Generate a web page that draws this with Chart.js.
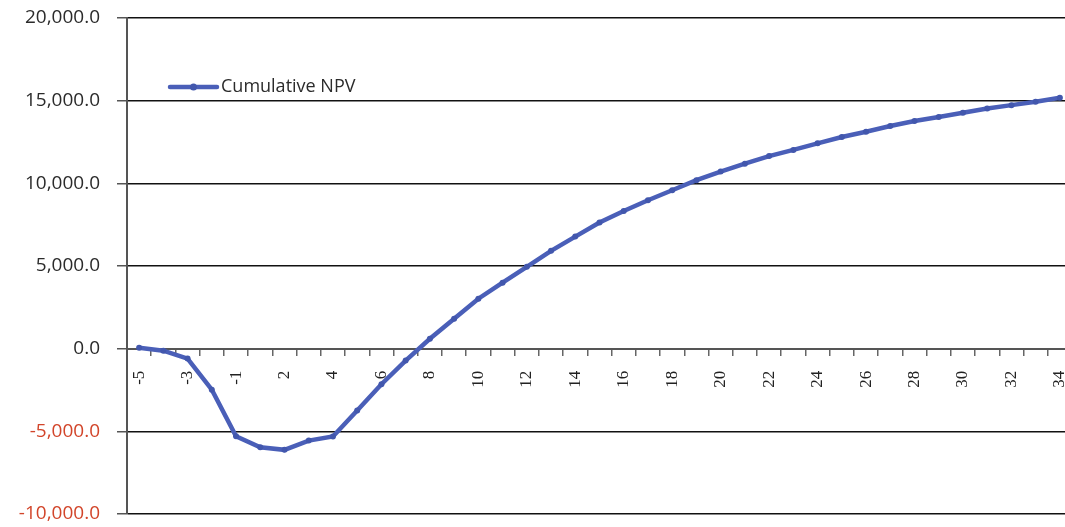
<!DOCTYPE html>
<html>
<head>
<meta charset="utf-8">
<title>Cumulative NPV</title>
<script src="https://cdn.jsdelivr.net/npm/chart.js@4.4.1/dist/chart.umd.min.js"></script>
<style>
  html, body { margin: 0; padding: 0; background: #ffffff; overflow: hidden; }
  #wrap { width: 1088px; height: 527px; }
</style>
</head>
<body>
<div id="wrap"><canvas id="npv" width="1088" height="527"></canvas></div>
<script>
// Project years (no year 0: construction years run -5..-1, operation 1..34)
const years = [-5, -4, -3, -2, -1,
  1, 2, 3, 4, 5, 6, 7, 8, 9, 10, 11, 12, 13, 14, 15, 16, 17,
  18, 19, 20, 21, 22, 23, 24, 25, 26, 27, 28, 29, 30, 31, 32, 33, 34];

// Cumulative net present value per year
const cumulativeNpv = [50, -120, -600, -2480, -5300,
  -5960, -6120, -5560, -5310, -3740, -2150, -720, 600, 1810, 3020, 3990, 4950,
  5920, 6780, 7630, 8330, 8980, 9580, 10190, 10710, 11190, 11650, 12020,
  12420, 12800, 13120, 13470, 13770, 14010, 14270, 14530, 14730, 14930, 15180];

// Value axis ticks
const yTicks = [-10000, -5000, 0, 5000, 10000, 15000, 20000];

const LINE_BLUE = '#4a5fb8';
const SANS = '"Open Sans", "Noto Sans", sans-serif';
const SERIF = '"Liberation Serif", "DejaVu Serif", serif';

// Let the layout padding alone decide the plot area's edges
function noScalePadding(scale) {
  scale.paddingTop = 0;
  scale.paddingBottom = 0;
  scale.paddingLeft = 0;
  scale.paddingRight = 0;
}

// Legend drawn inside the plot area, upper-left
const insideLegend = {
  id: 'insideLegend',
  afterDatasetsDraw(chart) {
    const { ctx, chartArea } = chart;
    const ds = chart.data.datasets[0];
    const x0 = chartArea.left + 43, x1 = x0 + 47, y = chartArea.top + 69;
    ctx.save();
    ctx.strokeStyle = ds.borderColor;
    ctx.lineWidth = 4.5;
    ctx.lineCap = 'round';
    ctx.beginPath(); ctx.moveTo(x0, y); ctx.lineTo(x1, y); ctx.stroke();
    ctx.fillStyle = ds.pointBackgroundColor;
    ctx.beginPath(); ctx.arc((x0 + x1) / 2, y, 3.5, 0, Math.PI * 2); ctx.fill();
    ctx.fillStyle = '#2b2b2b';
    ctx.font = '18px ' + SANS;
    ctx.textBaseline = 'middle';
    ctx.textAlign = 'left';
    ctx.fillText(ds.label, x1 + 4, y);
    ctx.restore();
  }
};

new Chart(document.getElementById('npv'), {
  type: 'line',
  data: {
    labels: years.map(String),
    datasets: [{
      label: 'Cumulative NPV',
      data: cumulativeNpv,
      borderColor: LINE_BLUE,
      borderWidth: 4.5,
      pointRadius: 3,
      pointBackgroundColor: '#4257ad',
      pointBorderWidth: 0,
      tension: 0,
      clip: false
    }]
  },
  options: {
    responsive: false,
    devicePixelRatio: 1,
    animation: false,
    layout: { padding: { top: 18, left: 0, right: 16, bottom: 13 } },
    plugins: { legend: { display: false }, tooltip: { enabled: false } },
    scales: {
      x: {
        type: 'category',
        position: { y: 0 },
        offset: true,
        afterFit: noScalePadding,
        border: { display: true, color: '#555555', width: 2 },
        grid: {
          offset: true,
          drawOnChartArea: false,
          drawTicks: true,
          tickLength: 6,
          tickColor: '#666666',
          lineWidth: 1.5
        },
        ticks: {
          autoSkip: false,
          minRotation: 90,
          maxRotation: 90,
          padding: 16,
          color: '#222222',
          font: { family: SERIF, size: 17 },
          callback: function (value, index) {
            return index % 2 === 0 ? this.getLabelForValue(value) : '';
          }
        }
      },
      y: {
        min: -10000,
        max: 20000,
        afterFit(scale) { scale.width = 127; noScalePadding(scale); },
        afterBuildTicks(scale) { scale.ticks = yTicks.map(v => ({ value: v })); },
        border: { display: true, color: '#555555', width: 2 },
        grid: {
          color: '#111111',
          lineWidth: 1.5,
          drawTicks: true,
          tickLength: 10,
          tickColor: '#555555'
        },
        ticks: {
          padding: 17,
          font: { family: SANS, size: 19 },
          color: ctx => (ctx.tick && ctx.tick.value < 0 ? '#d2452a' : '#2b2b2b'),
          callback: v => Number(v).toLocaleString('en-US', { minimumFractionDigits: 1, maximumFractionDigits: 1 })
        }
      }
    }
  },
  plugins: [insideLegend]
});
</script>
</body>
</html>
